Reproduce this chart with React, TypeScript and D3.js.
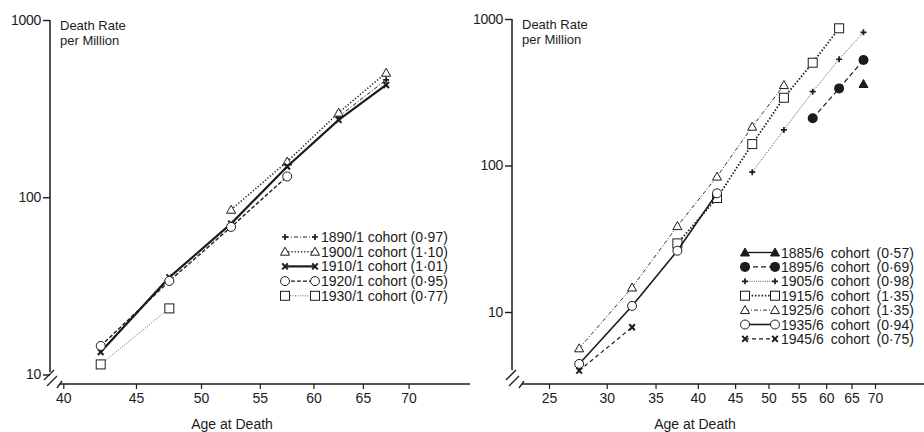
import React, { useEffect, useRef } from "react";
import * as d3 from "d3";

// left panel: 5-year age groups, rates per million
const leftAges = [42.5, 47.5, 52.5, 57.5, 62.5, 67.5];
const c1890 = [null, null, null, null, 285, 460];
const c1900 = [null, null, 85, 159, 300, 504];
const c1910 = [13.4, 35.3, 71, 149, 273, 430];
const c1920 = [14.5, 33.7, 68, 131, null, null];
const c1930 = [11.4, 23.6, null, null, null, null];
const leftLabels = ["1890/1 cohort (0·97)", "1900/1 cohort (1·10)", "1910/1 cohort (1·01)", "1920/1 cohort (0·95)", "1930/1 cohort (0·77)"];
const leftTicks = [40, 45, 50, 55, 60, 65, 70];

// right panel
const rightAges = [27.5, 32.5, 37.5, 42.5, 47.5, 52.5, 57.5, 62.5, 67.5];
const c1885 = [null, null, null, null, null, null, null, null, 360];
const c1895 = [null, null, null, null, null, null, 210, 336, 525];
const c1905 = [null, null, null, null, 90, 175, 319, 531, 811];
const c1915 = [null, null, 29.4, 60, 140, 290, 503, 864, null];
const c1925 = [5.65, 14.7, 38.6, 84, 184, 354, null, null, null];
const c1935 = [4.42, 11.0, 26.2, 64.6, null, null, null, null, null];
const c1945 = [3.98, 7.87, null, null, null, null, null, null, null];
const rightLabels = ["1885/6 cohort (0·57)", "1895/6 cohort (0·69)", "1905/6 cohort (0·98)", "1915/6  cohort (1·35)", "1925/6 cohort (1·35)", "1935/6 cohort (0·94)", "1945/6 cohort (0·75)"];
const rightTicks = [25, 30, 35, 40, 45, 50, 55, 60, 65, 70];

const yTicks = [10, 100, 1000];

const ink = "#1c1c1c";
const font = "'Liberation Sans', Arial, sans-serif";

type Style = { marker: string; dash: string; width: number; color?: string };

const leftStyles: Style[] = [
  { marker: "plus", dash: "4,2,1,2", width: 1 },
  { marker: "tri", dash: "1.2,2", width: 1.6 },
  { marker: "cross", dash: "", width: 2.2 },
  { marker: "circle", dash: "4,2", width: 1.4 },
  { marker: "square", dash: "1,1.5", width: 0.9, color: "#555" },
];
const rightStyles: Style[] = [
  { marker: "ftri", dash: "", width: 1.4 },
  { marker: "fcircle", dash: "5,3", width: 1.2 },
  { marker: "plus", dash: "1,1.2", width: 0.9, color: "#444" },
  { marker: "square", dash: "1.5,1.8", width: 1.8 },
  { marker: "tri", dash: "4,2,1,2", width: 0.9 },
  { marker: "circle", dash: "", width: 1.6 },
  { marker: "cross", dash: "4,3", width: 1.2 },
];

function marker(g: any, kind: string, x: number, y: number) {
  if (kind === "circle") {
    g.append("circle").attr("cx", x).attr("cy", y).attr("r", 4.5).attr("fill", "white").attr("stroke", ink).attr("stroke-width", 1);
  } else if (kind === "fcircle") {
    g.append("circle").attr("cx", x).attr("cy", y).attr("r", 5).attr("fill", ink);
  } else if (kind === "square") {
    g.append("rect").attr("x", x - 4.5).attr("y", y - 4.5).attr("width", 9).attr("height", 9).attr("fill", "white").attr("stroke", ink).attr("stroke-width", 1);
  } else if (kind === "tri" || kind === "ftri") {
    const f = kind === "ftri";
    g.append("path")
      .attr("d", `M${x},${y - 4.5}L${x + 4.5},${y + 3.5}L${x - 4.5},${y + 3.5}Z`)
      .attr("fill", f ? ink : "white").attr("stroke", ink).attr("stroke-width", 1);
  } else if (kind === "plus") {
    g.append("path").attr("d", `M${x - 3},${y}H${x + 3}M${x},${y - 3}V${y + 3}`).attr("stroke", ink).attr("stroke-width", 1.7);
  } else if (kind === "cross") {
    g.append("path").attr("d", `M${x - 2.8},${y - 3}L${x + 2.8},${y + 3}M${x + 2.8},${y - 3}L${x - 2.8},${y + 3}`).attr("stroke", ink).attr("stroke-width", 2);
  }
}

function panel(svg: any, opt: any) {
  const { x, y, ages, series, styles, labels, ticks, axisX, axisEnd, yEnd, legendX, legendY, legendStep, labelX, wordSpacing } = opt;
  const g = svg.append("g");

  // axes
  g.append("line").attr("x1", axisX).attr("x2", axisX).attr("y1", y(1000)).attr("y2", yEnd).attr("stroke", ink).attr("stroke-width", 1.5);
  g.append("line").attr("x1", axisX + 10).attr("x2", axisEnd).attr("y1", 384).attr("y2", 384).attr("stroke", ink).attr("stroke-width", 1.5);
  [[-6, 380, 4, 370], [-3, 386, 7, 376], [7, 388, 12, 381]].forEach((s) => {
    g.append("line").attr("x1", axisX + s[0]).attr("y1", s[1]).attr("x2", axisX + s[2]).attr("y2", s[3]).attr("stroke", ink).attr("stroke-width", 1.3);
  });

  const ya = g.append("g").attr("transform", `translate(${axisX},0)`)
    .call(d3.axisLeft(y).tickValues(yTicks).tickSize(7).tickPadding(2).tickFormat(d3.format("d")));
  ya.select(".domain").remove();
  ya.selectAll("line").attr("stroke", ink).attr("stroke-width", 1.4);
  ya.selectAll("text").attr("font-family", font).attr("font-size", 14).attr("fill", ink).attr("letter-spacing", -0.3);

  const xa = g.append("g").attr("transform", "translate(0,384)")
    .call(d3.axisBottom(x).tickValues(ticks).tickSize(5).tickPadding(4).tickFormat(d3.format("d")));
  xa.select(".domain").remove();
  xa.selectAll("line").attr("stroke", ink).attr("stroke-width", 1.2);
  xa.selectAll("text").attr("font-family", font).attr("font-size", 14).attr("fill", ink);

  g.append("text").attr("x", labelX).attr("y", 429).attr("text-anchor", "middle")
    .attr("font-family", font).attr("font-size", 14).attr("fill", ink).text("Age at Death");
  // two-line y title, kept as separate texts
  g.append("text").attr("x", axisX + 10).attr("y", y(1000) + 9.5)
    .attr("font-family", font).attr("font-size", 13).attr("fill", ink).text("Death Rate");
  g.append("text").attr("x", axisX + 10).attr("y", y(1000) + 24.5)
    .attr("font-family", font).attr("font-size", 13).attr("fill", ink).text("per Million");

  // series
  series.forEach((vals: (number | null)[], i: number) => {
    const st = styles[i];
    const pts = ages.map((a: number, j: number) => [a, vals[j]]).filter((p: any) => p[1] != null);
    const line = d3.line<any>().x((d) => x(d[0])).y((d) => y(d[1]));
    g.append("path").attr("d", line(pts)).attr("fill", "none")
      .attr("stroke", st.color || ink).attr("stroke-width", st.width).attr("stroke-dasharray", st.dash);
    pts.forEach((p: any) => marker(g, st.marker, x(p[0]), y(p[1])));
  });

  // legend
  labels.forEach((lab: string, i: number) => {
    const st = styles[i];
    const ly = legendY + i * legendStep;
    g.append("line").attr("x1", legendX).attr("x2", legendX + 30).attr("y1", ly).attr("y2", ly)
      .attr("stroke", st.color || ink).attr("stroke-width", st.width).attr("stroke-dasharray", st.dash);
    marker(g, st.marker, legendX, ly);
    marker(g, st.marker, legendX + 30, ly);
    g.append("text").attr("x", legendX + 36).attr("y", ly).attr("dy", "0.36em")
      .attr("font-family", font).attr("font-size", 14).attr("fill", ink)
      .attr("word-spacing", wordSpacing).text(lab);
  });
}

export default function App() {
  const ref = useRef<SVGSVGElement>(null);

  useEffect(() => {
    const svg = d3.select(ref.current);
    svg.selectAll("*").remove();

    const xl = d3.scaleLog().domain([40, 70]).range([63.3, 408.6]);
    const yl = d3.scaleLog().domain([10, 1000]).range([374.5, 20]);
    panel(svg, {
      x: xl, y: yl, ages: leftAges, series: [c1890, c1900, c1910, c1920, c1930],
      styles: leftStyles, labels: leftLabels, ticks: leftTicks,
      axisX: 50, axisEnd: 470, yEnd: 372, legendX: 285, legendY: 237, legendStep: 14.7, labelX: 232, wordSpacing: 0,
    });

    const xr = d3.scaleLog().domain([25, 70]).range([549, 875]);
    const yr = d3.scaleLog().domain([10, 1000]).range([312, 19]);
    panel(svg, {
      x: xr, y: yr, ages: rightAges, series: [c1885, c1895, c1905, c1915, c1925, c1935, c1945],
      styles: rightStyles, labels: rightLabels, ticks: rightTicks,
      axisX: 512, axisEnd: 924, yEnd: 370, legendX: 745, legendY: 252.5, legendStep: 14.4, labelX: 695, wordSpacing: 3,
    });
  }, []);

  return (
    <div style={{ position: "absolute", left: 0, top: 0 }}>
      <svg ref={ref} width={924} height={432} style={{ display: "block", background: "white" }} />
    </div>
  );
}
